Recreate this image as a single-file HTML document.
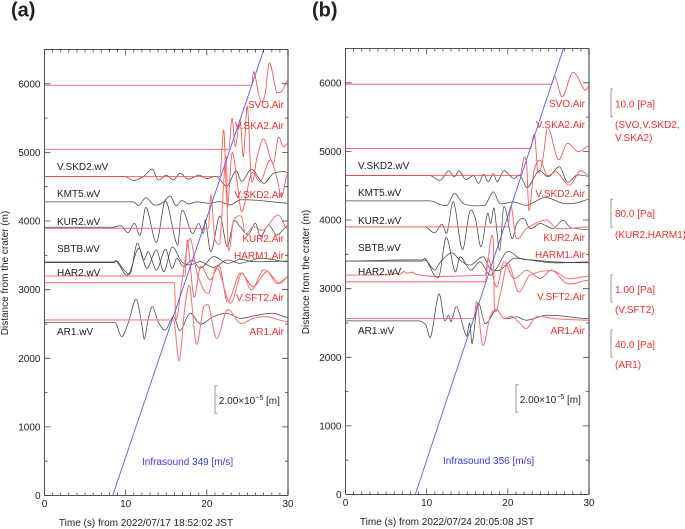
<!DOCTYPE html>
<html lang="en">
<head>
<meta charset="utf-8">
<title>Infrasound record sections</title>
<style>
html,body{margin:0;padding:0;background:#fff;}
#fig{display:block;position:absolute;left:0;top:0;}
text{font-family:"Liberation Sans",Arial,sans-serif;font-size:10px;}
</style>
</head>
<body>
<svg id="fig" xmlns="http://www.w3.org/2000/svg" width="685" height="529" viewBox="0 0 685 529">
  <text x="11" y="16.5" style="font-size:20px;font-weight:bold" fill="#222">(a)</text>
  <text x="312" y="16.5" style="font-size:20px;font-weight:bold" fill="#222">(b)</text>
  <g id="panelA"></g>
  <g id="panelB"></g>
  <g fill="#f03030">
    <path d="M613 89H611V116.7H613M613 199.3H611V227H613M613 275H611V302H613M613 330H611V357H613" fill="none" stroke="#999" stroke-width="1"/>
    <text x="615" y="107.5">10.0 [Pa]</text>
    <text x="615" y="128">(SVO,V.SKD2,</text>
    <text x="615" y="141">V.SKA2)</text>
    <text x="615" y="217">80.0 [Pa]</text>
    <text x="615" y="238">(KUR2,HARM1)</text>
    <text x="615" y="293">1.00 [Pa]</text>
    <text x="615" y="313">(V.SFT2)</text>
    <text x="615" y="348">40.0 [Pa]</text>
    <text x="615" y="368">(AR1)</text>
  </g>
</svg>
<script>
// Axis tick data
const xTickValues = [0, 10, 20, 30];
const yTickValues = [0, 1000, 2000, 3000, 4000, 5000, 6000];

// Panel (a) waveforms: [time s, distance m]
const aSeismicSkd2 = [[0,4650],[9.9,4650],[11,4590],[12.2,4650],[13.3,4754],[14,4599],[15,4670],[15.9,4600],[16.7,4696],[17.7,4610],[19,4670],[20,4620],[21.2,4650],[22.5,4511],[23.6,4735],[24.3,4574],[25.5,4754],[27,4550],[28.2,4696],[29.5,4720],[30,4706]];
const aSeismicKmt5 = [[0,4280],[11,4280],[11.6,4225],[12.5,4340],[13.5,4235],[14.6,4270],[15.5,4365],[16.2,4225],[16.9,4300],[17.7,4250],[18.7,4280],[19.8,4265],[20.4,4260],[21.6,4283],[22.9,4235],[24.1,4308],[26.6,4298],[30,4260]];
const aSeismicKur2 = [[0,3909],[8.5,3909],[9.5,3928],[10.3,3831],[11.1,3967],[11.8,3797],[12.5,4200],[13.8,3690],[14.9,4293],[16.4,3651],[16.9,4152],[18.2,3821],[19,3967],[19.6,3821],[19.8,4015],[20.5,3554],[21.6,4074],[22.5,3627],[23.3,3991],[24.1,3918],[25.1,3797],[26,3967],[26.6,3773],[27.6,3943],[28.6,3797],[30,3928]];
const aSeismicSbtb = [[0,3403],[8.5,3403],[8.9,3423],[9.8,3287],[10.6,3238],[11.4,3675],[12.2,3432],[12.8,3554],[13.8,3287],[14.9,3588],[15.7,3311],[16.3,3457],[17.1,3335],[18.2,3432],[19.2,3311],[20.8,3481],[22.5,3384],[24.1,3442],[25.7,3408],[30,3418]];
const aSeismicHar2 = [[0,3394],[8.5,3394],[8.9,3408],[10.3,3214],[11.6,3603],[12.6,3311],[13.8,3578],[14.7,3262],[15.7,3617],[16.9,3408],[17.9,3360],[19.2,3408],[20.8,3325],[22.5,3432],[24.1,3384],[26.6,3457],[30,3408]];
const aSeismicAr1 = [[0,2524],[8.7,2524],[9.5,2315],[10.3,2509],[11.3,2859],[12,2485],[12.3,2281],[12.8,2582],[13.3,2752],[14,2533],[14.9,2412],[15.9,2606],[16.7,2402],[17.9,2655],[19.2,2499],[20.8,2606],[22.5,2655],[24.1,2582],[25.7,2616],[28.2,2655],[30,2596]];
const aAirSvo = [[0,5979],[25.5,5979],[25.8,6178],[26.4,5838],[26.8,5741],[27.2,5862],[27.7,6310],[28.6,5872],[29.2,5887],[30,6047]];
const aAirSka2 = [[0,5046],[22.7,5046],[23.1,5498],[23.5,5085],[24.1,5474],[24.5,4939],[25,5668],[25.5,4599],[26.2,4939],[27,5197],[28.2,4842],[28.8,5216],[29.4,5085],[30,5133]];
const aAirSkd2 = [[0,4647],[21.6,4647],[22.1,5318],[22.5,4210],[23.1,4988],[23.7,4599],[24.3,4137],[25.5,4696],[26.6,4575],[27.8,4890],[28.6,4647],[29.2,4356],[30,4696]];
const aAirKur2 = [[0,3894],[20.2,3894],[20.5,4380],[21,3724],[21.6,3675],[22.4,4939],[22.6,3627],[23.3,4016],[24.3,4064],[24.7,3821],[25.7,3918],[27,3870],[28.8,4088],[30,3880]];
const aAirHarm1 = [[0,3199],[17.3,3199],[17.6,3724],[18.4,2898],[19.2,3335],[20.4,3141],[21.6,3335],[22.5,2825],[24.1,3238],[25.7,3043],[27.4,3262],[28.6,3092],[30,3180]];
const aAirSft2 = [[0,3102],[16,3102],[16.2,2558],[16.9,3092],[17.9,3748],[18.8,3238],[20.2,2946],[21.2,3335],[22.9,2801],[24.3,3238],[25.5,2995],[27,3287],[29,3092],[30,3189]];
const aAirAr1 = [[0,2558],[15.9,2558],[16.6,1965],[17.3,2752],[17.9,3043],[18.7,2208],[19.6,2752],[20.2,2776],[21.2,2290],[22.5,2703],[24.1,2509],[25.7,2582],[27.4,2606],[30,2533]];

// Panel (b) waveforms: [time s, distance m]
const bSeismicSkd2 = [[0,4649],[10.4,4649],[11.7,4581],[12.7,4717],[13.4,4629],[14,4717],[14.8,4590],[15.8,4649],[16.4,4532],[17,4668],[17.6,4556],[18.2,4678],[18.7,4556],[19.5,4717],[20.7,4605],[21.5,4654],[22.4,4474],[23.8,4717],[25,4629],[26.4,4775],[27.3,4556],[28.5,4654],[30,4639]];
const bSeismicKmt5 = [[0,4280],[10.4,4280],[12.5,4216],[13.4,4386],[14.5,4240],[16,4207],[17.2,4216],[18.2,4411],[19,4240],[20.7,4265],[22.3,4216],[24.6,4328],[26.9,4240],[28.5,4250],[30,4299]];
const bSeismicKur2 = [[0,3901],[9.8,3901],[11,3814],[11.9,3940],[12.5,3814],[13.3,4266],[14.4,3571],[15.3,4120],[16,4023],[16.7,3610],[17.5,4096],[17.9,3950],[18.3,4169],[19,3561],[19.5,4193],[20.5,3731],[21.1,3950],[22,4023],[22.7,3877],[24,3950],[25.6,3877],[26.8,3999],[27.7,3892],[30,3863]];
const bSeismicSbtb = [[0,3401],[9.4,3401],[9.8,3440],[11.5,3172],[12.4,3746],[13.5,3245],[14.1,3464],[15.4,3270],[16.6,3391],[17.8,3197],[18.6,3294],[19.9,3537],[21.5,3440],[23.2,3416],[25.6,3391],[30,3377]];
const bSeismicHar2 = [[0,3401],[9.8,3416],[11,3270],[11.7,3391],[13.1,3522],[14.1,3416],[15.4,3343],[17,3464],[17.8,3294],[19,3270],[20.7,3440],[22.7,3416],[25.6,3377],[30,3391]];
const bSeismicAr1 = [[0,2531],[9,2531],[9.9,2468],[10.5,2298],[11.5,2920],[12.2,2540],[12.7,2613],[13.0,2516],[13.7,2735],[14.9,2307],[15.3,2492],[15.6,2200],[16.3,2784],[17.2,2492],[18.6,2696],[19.5,2565],[21.1,2589],[22.3,2540],[24.8,2613],[30,2565]];
const bAirSvo = [[0,5980],[25.4,5980],[25.8,6097],[26.7,5796],[28,6151],[29.5,5893],[30,5951]];
const bAirSka2 = [[0,5042],[22.8,5042],[23.3,5237],[23.7,4702],[24.3,4880],[24.9,5349],[26.2,4882],[27.3,5115],[28.7,4994],[30,5081]];
const bAirSkd2 = [[0,4649],[21.5,4649],[22,4911],[22.3,4848],[22.6,4143],[23.2,4702],[24,4872],[24.8,4654],[26,4702],[27.6,4508],[28.9,4717],[30,4654]];
const bAirKur2 = [[0,3901],[20,3901],[20.4,4203],[21,3746],[22.3,3877],[24.8,3999],[26,3877],[30,3901]];
const bAirHarm1 = [[0,3197],[5.5,3200],[6.3,3225],[6.7,3205],[7.2,3250],[7.6,3225],[8.2,3240],[8.8,3205],[11,3180],[17.2,3197],[17.6,3440],[18.6,3027],[19.5,3391],[20.7,3148],[22.3,3270],[24,3148],[25.4,3270],[27.3,3075],[30,3124]];
const bAirSft2 = [[0,3100],[17.2,3100],[17.6,3464],[18.2,3717],[18.35,2711],[19,2881],[20,3367],[21.3,2954],[22.7,3197],[25.6,3260],[27.3,3148],[30,3182]];
const bAirAr1 = [[0,2565],[15.8,2565],[16.2,2808],[16.9,2176],[17.8,2590],[18.6,2696],[19.5,2565],[20.5,2599],[21.5,2492],[22.3,2419],[23.5,2590],[25.6,2565],[30,2541]];

// Infrasound propagation lines
const aSpeed = 349;
const aOriginTime = 8.4;
const bSpeed = 356;
const bOriginTime = 8.6;

const NS = 'http://www.w3.org/2000/svg';
function make(parent, tag, attrs) {
  const el = document.createElementNS(NS, tag);
  for (const k in attrs) el.setAttribute(k, attrs[k]);
  parent.appendChild(el);
  return el;
}

function drawPanel(root, cfg) {
  const sx = t => cfg.left + (t / 30) * (cfg.right - cfg.left);
  const sy = d => cfg.bottom - (d / 6500) * (cfg.bottom - cfg.top);

  function curve(pts) {
    const p = pts.map(q => [sx(q[0]), sy(q[1])]);
    let s = 'M' + p[0][0].toFixed(2) + ' ' + p[0][1].toFixed(2);
    for (let i = 0; i < p.length - 1; i++) {
      const p0 = p[Math.max(i - 1, 0)], p1 = p[i], p2 = p[i + 1], p3 = p[Math.min(i + 2, p.length - 1)];
      const dx = p2[0] - p1[0];
      const m1 = (p2[1] - p0[1]) / Math.max(p2[0] - p0[0], 0.01);
      const m2 = (p3[1] - p1[1]) / Math.max(p3[0] - p1[0], 0.01);
      const flat1 = i === 0 ? 0 : m1, flat2 = i === p.length - 2 ? 0 : m2;
      const lim = 2.5 * Math.abs(p2[1] - p1[1]) / Math.max(dx, 0.01);
      const c1 = Math.max(-lim, Math.min(lim, flat1));
      const c2 = Math.max(-lim, Math.min(lim, flat2));
      const firstFlat = Math.abs(p1[1] - p2[1]) < 0.01;
      s += 'C' + (p1[0] + dx / 3).toFixed(2) + ' ' + (firstFlat ? p1[1] : p1[1] + c1 * dx / 3).toFixed(2) + ' ' +
        (p2[0] - dx / 3).toFixed(2) + ' ' + (firstFlat ? p2[1] : p2[1] - c2 * dx / 3).toFixed(2) + ' ' +
        p2[0].toFixed(2) + ' ' + p2[1].toFixed(2);
    }
    return s;
  }

  const clip = make(root, 'clipPath', { id: cfg.id + '-clip' });
  make(clip, 'rect', { x: cfg.left, y: cfg.top, width: cfg.right - cfg.left, height: cfg.bottom - cfg.top });

  const traces = make(root, 'g', { 'clip-path': 'url(#' + cfg.id + '-clip)' });
  
  

  cfg.black.forEach(s => {
    const line = make(traces, 'path', { d: curve(s.data), fill: 'none', stroke: '#444', 'stroke-width': 0.75 });
    
    
  });
  cfg.red.forEach(s => {
    const line = make(traces, 'path', {
      d: curve(s.data), fill: 'none',
      stroke: s.thick ? '#f87a7a' : '#f44848',
      'stroke-width': s.thick ? 1.1 : 0.8
    });
    
    
  });

  const endTime = cfg.origin + 6500 / cfg.speed;
  const arrival = make(traces, 'line', {
    x1: sx(cfg.origin), y1: sy(0), x2: sx(endTime), y2: sy(6500),
    stroke: '#5a5af0', 'stroke-width': 0.9
  });
  
  

  // frame
  const frame = make(root, 'path', {
    d: 'M' + cfg.left + ' ' + cfg.bottom + 'V' + cfg.top + 'H' + cfg.right,
    fill: 'none', stroke: '#555', 'stroke-width': 1
  });
  
  

  const frameBase = make(root, 'line', { x1: cfg.left, y1: cfg.bottom, x2: cfg.right, y2: cfg.bottom, stroke: '#555', 'stroke-width': 1 });
  
  

  const frameRight = make(root, 'line', { x1: cfg.right, y1: cfg.top, x2: cfg.right, y2: cfg.bottom, stroke: '#777', 'stroke-width': 1.5 });
  
  

  // ticks
  let tick = '';
  for (let t = 0; t <= 30; t++) {
    const len = t % 10 === 0 ? 6 : 3;
    tick += 'M' + sx(t).toFixed(1) + ' ' + cfg.top + 'v' + len;
    tick += 'M' + sx(t).toFixed(1) + ' ' + cfg.bottom + 'v' + (-len);
  }
  for (let d = 0; d <= 6500; d += 500) {
    const len = d % 1000 === 0 ? 6 : 3;
    tick += 'M' + cfg.left + ' ' + sy(d).toFixed(1) + 'h' + len;
    tick += 'M' + cfg.right + ' ' + sy(d).toFixed(1) + 'h' + (-len);
  }
  const ticks = make(root, 'path', { d: tick, fill: 'none', stroke: '#444', 'stroke-width': 0.8 });
  
  

  xTickValues.forEach(v => {
    const lab = make(root, 'text', { x: sx(v), y: cfg.bottom + 11.5, 'text-anchor': 'middle', fill: '#222' });
    lab.textContent = v;
    
    
  });
  yTickValues.forEach(v => {
    const lab = make(root, 'text', { x: cfg.left - 4, y: sy(v) + 3.5, 'text-anchor': 'end', fill: '#222' });
    lab.textContent = v;
    
    
  });

  const yTitle = make(root, 'text', {
    transform: 'translate(' + (cfg.left - 36.5) + ' ' + (cfg.top + 223.5) + ') rotate(-90)',
    'text-anchor': 'middle', fill: '#222'
  });
  yTitle.textContent = 'Distance from the crater (m)';
  
  

  const xTitle = make(root, 'text', { x: cfg.left + 101.5, y: cfg.bottom + 30.5, 'text-anchor': 'middle', fill: '#222' });
  xTitle.textContent = cfg.xTitle;
  
  

  const dy = cfg.labelDy, lx = cfg.left + 12.5, rx = cfg.right - 4;
  cfg.blackLabels.forEach(l => {
    const t = make(root, 'text', { x: lx, y: l[1] + dy, fill: '#222' });
    t.textContent = l[0];
    
    
  });
  cfg.redLabels.forEach(l => {
    const t = make(root, 'text', { x: rx, y: l[1] + dy, 'text-anchor': 'end', fill: '#f03030' });
    t.textContent = l[0];
    
    
  });

  const inf = make(root, 'text', { x: cfg.left + 97.5, y: 465 + dy, fill: '#3838f0' });
  inf.textContent = 'Infrasound ' + cfg.speed + ' [m/s]';
  
  

  const bx = cfg.left + 170.5, by = 385.7 + dy;
  const bracket = make(root, 'path', { d: 'M' + (bx + 2.5) + ' ' + by + 'H' + bx + 'V' + (by + 27.5) + 'H' + (bx + 2.5), fill: 'none', stroke: '#999', 'stroke-width': 1 });
  
  

  const scale = make(root, 'text', { x: bx + 3.8, y: 404 + dy, fill: '#222' });
  
  
  const s1 = make(scale, 'tspan', {});
  s1.textContent = '2.00×10';
  const s2 = make(scale, 'tspan', { dy: -4, style: 'font-size:7px' });
  s2.textContent = '−5';
  const s3 = make(scale, 'tspan', { dy: 4 });
  s3.textContent = ' [m]';
}

const blackLabelRows = [['V.SKD2.wV',170],['KMT5.wV',197],['KUR2.wV',225],['SBTB.wV',252],['HAR2.wV',276],['AR1.wV',335]];
const redLabelRows = [['SVO.Air',108],['V.SKA2.Air',129],['V.SKD2.Air',198],['KUR2.Air',242],['HARM1.Air',259],['V.SFT2.Air',301],['AR1.Air',335]];

drawPanel(document.getElementById('panelA'), {
  id: 'a', left: 44.5, right: 288, top: 49.5, bottom: 495.5, labelDy: 0,
  speed: aSpeed, origin: aOriginTime,
  xTitle: 'Time (s) from 2022/07/17 18:52:02 JST',
  blackLabels: blackLabelRows, redLabels: redLabelRows,
  black: [
    { name: 'seismic-trace-v-skd2', data: aSeismicSkd2 }, { name: 'seismic-trace-kmt5', data: aSeismicKmt5 },
    { name: 'seismic-trace-kur2', data: aSeismicKur2 }, { name: 'seismic-trace-sbtb', data: aSeismicSbtb },
    { name: 'seismic-trace-har2', data: aSeismicHar2 }, { name: 'seismic-trace-ar1', data: aSeismicAr1 }
  ],
  red: [
    { name: 'air-trace-svo', data: aAirSvo }, { name: 'air-trace-v-ska2', data: aAirSka2 },
    { name: 'air-trace-v-skd2', data: aAirSkd2 }, { name: 'air-trace-kur2', data: aAirKur2, thick: true },
    { name: 'air-trace-harm1', data: aAirHarm1 }, { name: 'air-trace-v-sft2', data: aAirSft2, thick: true },
    { name: 'air-trace-ar1', data: aAirAr1, thick: true }
  ]
});

drawPanel(document.getElementById('panelB'), {
  id: 'b', left: 345.5, right: 589, top: 48.5, bottom: 494.5, labelDy: -1,
  speed: bSpeed, origin: bOriginTime,
  xTitle: 'Time (s) from 2022/07/24 20:05:08 JST',
  blackLabels: blackLabelRows, redLabels: redLabelRows,
  black: [
    { name: 'seismic-trace-v-skd2', data: bSeismicSkd2 }, { name: 'seismic-trace-kmt5', data: bSeismicKmt5 },
    { name: 'seismic-trace-kur2', data: bSeismicKur2 }, { name: 'seismic-trace-sbtb', data: bSeismicSbtb },
    { name: 'seismic-trace-har2', data: bSeismicHar2 }, { name: 'seismic-trace-ar1', data: bSeismicAr1 }
  ],
  red: [
    { name: 'air-trace-svo', data: bAirSvo }, { name: 'air-trace-v-ska2', data: bAirSka2 },
    { name: 'air-trace-v-skd2', data: bAirSkd2 }, { name: 'air-trace-kur2', data: bAirKur2, thick: true },
    { name: 'air-trace-harm1', data: bAirHarm1 }, { name: 'air-trace-v-sft2', data: bAirSft2, thick: true },
    { name: 'air-trace-ar1', data: bAirAr1, thick: true }
  ]
});
</script>
</body>
</html>
